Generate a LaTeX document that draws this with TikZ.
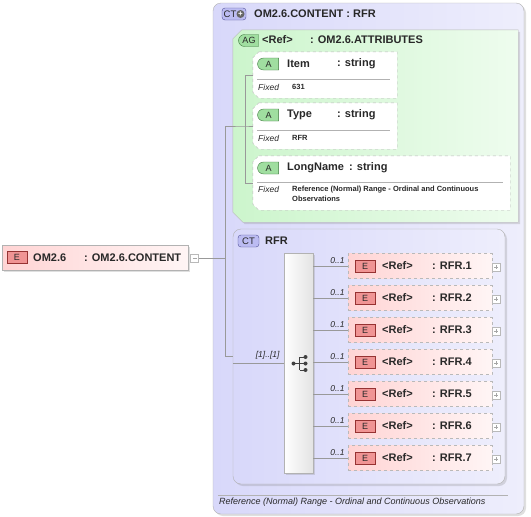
\documentclass[tikz,border=0pt]{standalone}
\usepackage{fontspec}
\setmainfont{Liberation Sans}
\usepackage{tikz}
\usetikzlibrary{calc}
\usetikzlibrary{shapes.misc}
\usetikzlibrary{shadows}

\definecolor{ctL}{RGB}{216,216,250}
\definecolor{ctR}{RGB}{238,238,252}
\definecolor{agL}{RGB}{204,245,204}
\definecolor{agR}{RGB}{238,252,238}
\definecolor{elL}{RGB}{255,212,212}
\definecolor{elR}{RGB}{255,245,245}
\definecolor{eFill}{RGB}{240,148,148}
\definecolor{eEdge}{RGB}{150,50,50}
\definecolor{aFill}{RGB}{160,222,160}
\definecolor{aEdge}{RGB}{60,120,60}
\definecolor{cFill}{RGB}{188,188,242}
\definecolor{cEdge}{RGB}{80,80,150}
\definecolor{ink}{RGB}{40,40,40}

\begin{document}
\begin{tikzpicture}[x=1pt,y=-1pt,
  hdr/.style={anchor=west,inner sep=0,text=ink,font=\bfseries\fontsize{11}{13}\selectfont},
  fixl/.style={anchor=west,inner sep=0,text=ink,font=\itshape\fontsize{8.5}{10}\selectfont},
  fixv/.style={anchor=west,inner sep=0,text=ink,align=left,font=\bfseries\fontsize{7.5}{10}\selectfont},
  mult/.style={anchor=south east,inner sep=0,xshift=-3pt,yshift=2pt,text=ink,font=\itshape\fontsize{8.5}{10}\selectfont},
  conn/.style={draw=gray!80,line width=0.6pt},
  shd/.style={drop shadow={shadow xshift=2pt,shadow yshift=-2pt,opacity=.25}},
  frame/.style={inner sep=0},
  ctbox/.style={draw=gray!60,rounded corners=8pt,left color=ctL,right color=ctR,shd},
  agbox/.style={draw=gray!55,left color=agL,right color=agR,shd},
  attrbox/.style={draw=gray!55,dashed,fill=white},
  elbox/.style={draw=gray!60,left color=elL,right color=elR,inner sep=0,shd},
  optel/.style={draw=gray!55,dashed,left color=elL,right color=elR,inner sep=0,
    minimum width=144,minimum height=25},
  seqbox/.style={draw=gray!60,left color=white,right color=gray!22,inner sep=0,shd},
  ebadge/.style={draw=eEdge,fill=eFill,minimum width=20,minimum height=12,inner sep=0,
    text=ink,font=\fontsize{9}{9}\selectfont},
  abadge/.style={rounded rectangle,rounded rectangle right arc=none,draw=aEdge,fill=aFill,
    minimum width=21,minimum height=12,inner sep=0,text=ink,font=\fontsize{9}{9}\selectfont},
  cbadge/.style={draw=cEdge,fill=cFill,rounded corners=3pt,minimum height=12,inner sep=0,
    text=ink,font=\fontsize{9.5}{9.5}\selectfont},
  plusbox/.style={draw=gray!55,fill=white,minimum size=8,inner sep=0,
    path picture={\draw[gray!70] ([xshift=2pt]path picture bounding box.west) -- ([xshift=-2pt]path picture bounding box.east)
      ([yshift=-2pt]path picture bounding box.north) -- ([yshift=2pt]path picture bounding box.south);}},
  minusbox/.style={draw=gray!55,fill=white,minimum size=8,inner sep=0,
    path picture={\draw[gray!70] ([xshift=2pt]path picture bounding box.west) -- ([xshift=-2pt]path picture bounding box.east);}}]
  \useasboundingbox (0,0) rectangle (531,517);

  % complex type OM2.6.CONTENT
  \node[ctbox,minimum width=311,minimum height=511] (ct) at (368.5,258.5) {};
  \node[cbadge,minimum width=24] (ctb) at (234,14) {};
  \node[anchor=west,inner sep=0,text=ink,font=\fontsize{9.5}{9.5}\selectfont] (ctbt) at (223.5,14) {CT};
  \node[circle,fill=gray!80!black,text=white,minimum size=8,inner sep=0,font=\bfseries\fontsize{8}{8}\selectfont] (ctplus) at (240.5,14) {+};
  \node[hdr] (ctname) at (254,14) {OM2.6.CONTENT : RFR};

  % attribute group
  \node[frame,minimum width=285,minimum height=192] (ag) at (375.5,126) {};
  \draw[agbox] ([xshift=9pt]ag.north west) -- (ag.north east) -- (ag.south east) -- ([xshift=10pt]ag.south west)
    -- ([yshift=10pt]ag.south west) -- ([yshift=-9pt]ag.north west) -- cycle;
  \node[abadge,minimum width=20] (agb) at (249,40.5) {AG};
  \node[hdr] (agref) at (262,40) {<Ref>};
  \node[hdr] (agname) at (310,40) {: OM2.6.ATTRIBUTES};

  \node[frame,minimum width=144,minimum height=46] (item) at (325,75) {};
  \draw[attrbox] ([xshift=6pt]item.north west) -- (item.north east) -- (item.south east) -- ([xshift=6pt]item.south west)
    -- ([yshift=6pt]item.south west) -- ([yshift=-6pt]item.north west) -- cycle;
  \node[abadge] (itemb) at (268.5,64) {A};
  \node[hdr] (itemn) at (287,64) {Item};
  \node[hdr] (itemt) at (337,64) {: string};
  \draw[gray!60] (257,79) -- (390,79);
  \node[fixl] (itemf) at (258,87) {Fixed};
  \node[fixv] (itemv) at (292,87) {631};

  \node[frame,minimum width=144,minimum height=46] (type) at (325,126) {};
  \draw[attrbox] ([xshift=6pt]type.north west) -- (type.north east) -- (type.south east) -- ([xshift=6pt]type.south west)
    -- ([yshift=6pt]type.south west) -- ([yshift=-6pt]type.north west) -- cycle;
  \node[abadge] (typeb) at (268.5,115) {A};
  \node[hdr] (typen) at (287,115) {Type};
  \node[hdr] (typet) at (337,115) {: string};
  \draw[gray!60] (257,130) -- (390,130);
  \node[fixl] (typef) at (258,138) {Fixed};
  \node[fixv] (typev) at (292,138) {RFR};

  \node[frame,minimum width=257,minimum height=54] (long) at (381.5,183) {};
  \draw[attrbox] ([xshift=6pt]long.north west) -- (long.north east) -- (long.south east) -- ([xshift=6pt]long.south west)
    -- ([yshift=6pt]long.south west) -- ([yshift=-6pt]long.north west) -- cycle;
  \node[abadge] (longb) at (268.5,168) {A};
  \node[hdr] (longn) at (287,168) {LongName};
  \node[hdr] (longt) at (349,168) {: string};
  \draw[gray!60] (257,182) -- (503,182);
  \node[fixl] (longf) at (258,189) {Fixed};
  \node[fixv] (longv) at (292,194) {Reference (Normal) Range - Ordinal and Continuous\\Observations};

  % complex type RFR
  \node[ctbox,minimum width=272,minimum height=255] (rfr) at (369,356.5) {};
  \node[cbadge,minimum width=21] (rfrb) at (248.5,241) {CT};
  \node[hdr] (rfrn) at (265,241) {RFR};
  \node[seqbox,minimum width=29,minimum height=220] (seq) at (298.5,363) {};
  \coordinate (sc) at (299.5,363.5);
  \draw[black!75,line width=0.8pt] ($(sc)+(-6,0)$) -- ($(sc)+(0,0)$) ($(sc)+(0,-6.5)$) -- ($(sc)+(0,6.5)$)
    ($(sc)+(0,-6.5)$) -- ($(sc)+(6,-6.5)$) ($(sc)+(0,0)$) -- ($(sc)+(6,0)$) ($(sc)+(0,6.5)$) -- ($(sc)+(6,6.5)$);
  \fill[black!75] ($(sc)+(-6,0)$) circle (2) ($(sc)+(6,-6.5)$) circle (2) ($(sc)+(6,0)$) circle (2) ($(sc)+(6,6.5)$) circle (2);

  % element OM2.6
  \node[elbox,minimum width=186,minimum height=25] (om) at (95,257.5) {};
  \node[ebadge] (omb) at (17,257.5) {E};
  \node[hdr] (omn) at (33,257.5) {OM2.6};
  \node[hdr] (omt) at (84,257.5) {: OM2.6.CONTENT};
  \node[minusbox] (omminus) at (194.5,258) {};

  % tree lines
  \coordinate (a0) at (245,126);
  \coordinate (t0) at (225,126);
  \coordinate (t1) at (225,356.5);
  \draw[conn] (item.west) -| (a0);
  \draw[conn] (long.west) -| (a0);
  \draw[conn] (type.west) -- (a0) -- (t0) -- (t1) -- (rfr.west);
  \draw[conn] (omminus.east) -- (omminus.east -| t0);
  \draw[conn] (seq.west -| rfr.west) -- node[mult,pos=1,xshift=-1pt,yshift=1pt] {[1]..[1]} (seq.west);

  % children of RFR
  \node[optel] (r1) at (420,266) {};
  \node[ebadge] (r1b) at (365,266) {E};
  \node[hdr] (r1n) at (382,266) {\makebox[50pt][l]{<Ref>}: RFR.1};
  \node[plusbox] (r1p) at (496,267) {};
  \draw[conn] (r1.west -| seq.east) -- node[mult,pos=1] {0..1} (r1.west);

  \node[optel] (r2) at (420,298) {};
  \node[ebadge] (r2b) at (365,298) {E};
  \node[hdr] (r2n) at (382,298) {\makebox[50pt][l]{<Ref>}: RFR.2};
  \node[plusbox] (r2p) at (496,299) {};
  \draw[conn] (r2.west -| seq.east) -- node[mult,pos=1] {0..1} (r2.west);

  \node[optel] (r3) at (420,330) {};
  \node[ebadge] (r3b) at (365,330) {E};
  \node[hdr] (r3n) at (382,330) {\makebox[50pt][l]{<Ref>}: RFR.3};
  \node[plusbox] (r3p) at (496,331) {};
  \draw[conn] (r3.west -| seq.east) -- node[mult,pos=1] {0..1} (r3.west);

  \node[optel] (r4) at (420,362) {};
  \node[ebadge] (r4b) at (365,362) {E};
  \node[hdr] (r4n) at (382,362) {\makebox[50pt][l]{<Ref>}: RFR.4};
  \node[plusbox] (r4p) at (496,363) {};
  \draw[conn] (r4.west -| seq.east) -- node[mult,pos=1] {0..1} (r4.west);

  \node[optel] (r5) at (420,394) {};
  \node[ebadge] (r5b) at (365,394) {E};
  \node[hdr] (r5n) at (382,394) {\makebox[50pt][l]{<Ref>}: RFR.5};
  \node[plusbox] (r5p) at (496,395) {};
  \draw[conn] (r5.west -| seq.east) -- node[mult,pos=1] {0..1} (r5.west);

  \node[optel] (r6) at (420,426) {};
  \node[ebadge] (r6b) at (365,426) {E};
  \node[hdr] (r6n) at (382,426) {\makebox[50pt][l]{<Ref>}: RFR.6};
  \node[plusbox] (r6p) at (496,427) {};
  \draw[conn] (r6.west -| seq.east) -- node[mult,pos=1] {0..1} (r6.west);

  \node[optel] (r7) at (420,458) {};
  \node[ebadge] (r7b) at (365,458) {E};
  \node[hdr] (r7n) at (382,458) {\makebox[50pt][l]{<Ref>}: RFR.7};
  \node[plusbox] (r7p) at (496,459) {};
  \draw[conn] (r7.west -| seq.east) -- node[mult,pos=1] {0..1} (r7.west);

  % documentation
  \draw[gray!60] (218,495) -- (508,495);
  \node[anchor=west,inner sep=0,text=ink,font=\itshape\fontsize{9}{11}\selectfont] (doc) at (219,502) {Reference (Normal) Range - Ordinal and Continuous Observations};
\end{tikzpicture}
\end{document}
